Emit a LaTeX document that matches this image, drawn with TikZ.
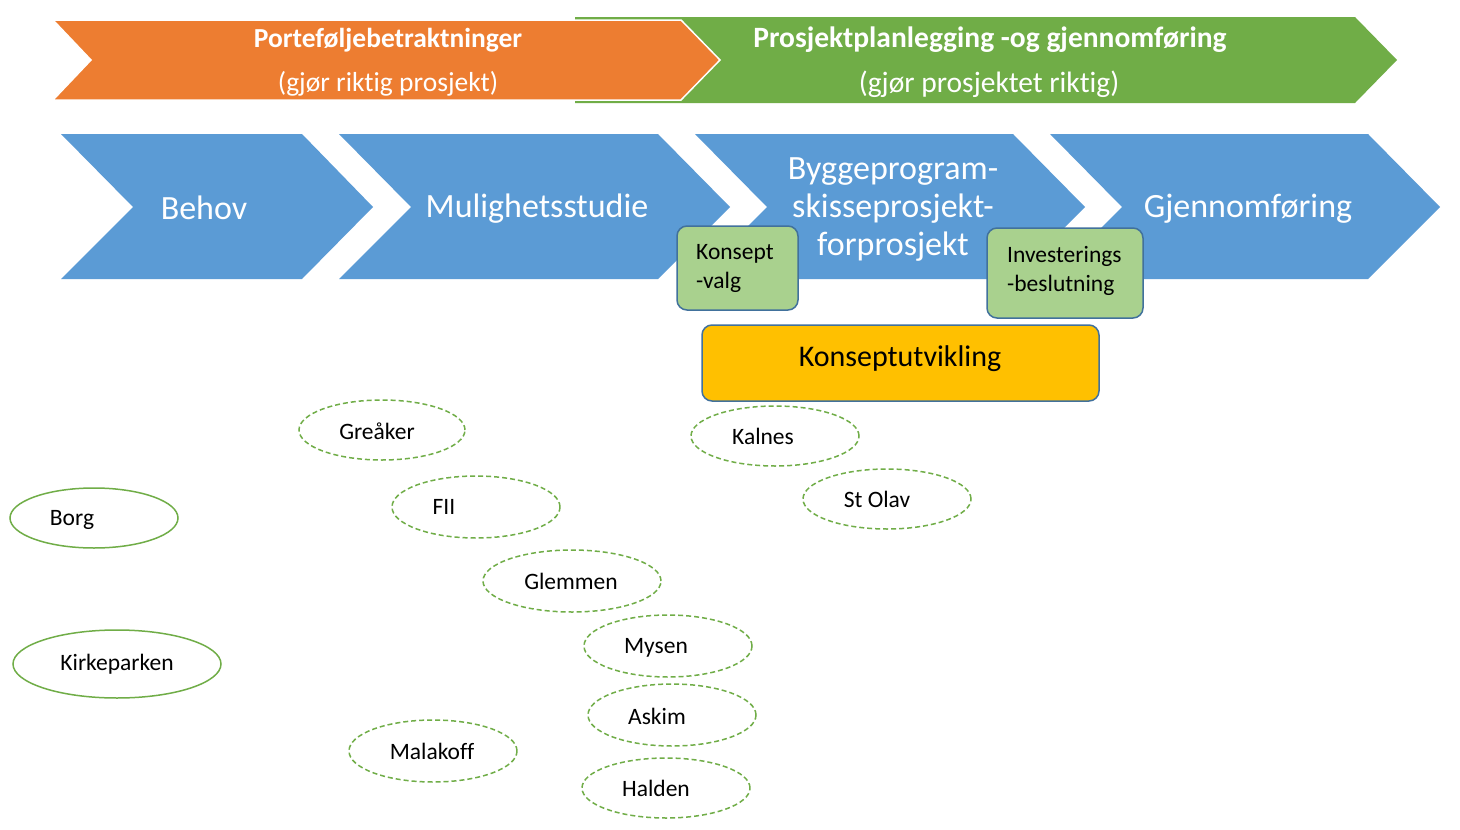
\documentclass[tikz,border=0pt]{standalone}
\usepackage{fontspec}
\setmainfont{Carlito}[Ligatures={NoCommon}]
\usetikzlibrary{shapes.geometric}
\definecolor{orangeA}{HTML}{ED7D31}
\definecolor{greenA}{HTML}{70AD47}
\definecolor{blueA}{HTML}{5B9BD5}
\definecolor{blueB}{HTML}{41719C}
\definecolor{greenB}{HTML}{A9D18E}
\definecolor{goldA}{HTML}{FFC000}
\tikzset{
  phase/.style={fill=blueA,draw=none},
  phasetext/.style={text=white,font=\fontsize{34}{38}\selectfont,align=center,inner sep=0},
  bandtext/.style={text=white,inner sep=0},
  gate/.style={draw=blueB,line width=1.5pt,fill=greenB,rounded corners=10pt},
  gatetext/.style={font=\fontsize{23.5}{29}\selectfont,align=left,inner sep=0,anchor=west},
  site/.style={ellipse,draw=greenA,line width=1.5pt,dashed,dash pattern=on 5pt off 3pt,inner sep=0},
  sitesolid/.style={ellipse,draw=greenA,line width=1.5pt,inner sep=0},
  sitetext/.style={font=\fontsize{23.5}{26}\selectfont,inner sep=0}
}
\begin{document}
\begin{tikzpicture}[x=1pt,y=-1pt]
\fill[white] (0,0) rectangle (1460,830);
\useasboundingbox (0,0) rectangle (1460,830);
% top bands
\fill[greenA] (575,17) -- (1355,17) -- (1397,60) -- (1355,103) -- (575,103) -- cycle;
\filldraw[fill=orangeA,draw=white,line width=1.5pt] (53,20) -- (681,20) -- (720,60) -- (681,100) -- (53,100) -- (91,60) -- cycle;
\node[bandtext,font=\fontsize{27.5}{30}\selectfont\bfseries] (pf1) at (388,40) {Porteføljebetraktninger};
\node[bandtext,font=\fontsize{27.5}{30}\selectfont] (pf2) at (388,84) {(gjør riktig prosjekt)};
\node[bandtext,font=\fontsize{29.5}{32}\selectfont\bfseries] (pp1) at (990,40) {Prosjektplanlegging -og gjennomføring};
\node[bandtext,font=\fontsize{29.5}{32}\selectfont] (pp2) at (989,84) {(gjør prosjektet riktig)};
% phases
\fill[phase] (61,134) -- (302,134) -- (373,207) -- (302,279) -- (61,279) -- (133,207) -- cycle;
\fill[phase] (339,134) -- (658,134) -- (730,207) -- (658,279) -- (339,279) -- (411,207) -- cycle;
\fill[phase] (695,134) -- (1013,134) -- (1085,207) -- (1013,279) -- (695,279) -- (767,207) -- cycle;
\fill[phase] (1050,134) -- (1368,134) -- (1440,207) -- (1368,279) -- (1050,279) -- (1122,207) -- cycle;
\node[phasetext] (behov) at (204,208) {Behov};
\node[phasetext] (mulig) at (537,209) {Mulighetsstudie};
\node[phasetext] (bygg) at (893,210) {Byggeprogram-\\skisseprosjekt-\\forprosjekt};
\node[phasetext] (gjen) at (1248,209) {Gjennomføring};
% gates
\draw[gate] (677,226) rectangle (798,310);
\node[gatetext] (kv) at (696,268.5) {Konsept\\-valg};
\draw[gate] (987,228) rectangle (1143,318);
\node[gatetext] (ib) at (1007,271) {Investerings\\-beslutning};
\draw[gate,fill=goldA] (702,325) rectangle (1099,401);
\node[font=\fontsize{30}{34}\selectfont,inner sep=0] (ku) at (900,359) {Konseptutvikling};
% sites
\node[site,minimum width=166pt,minimum height=60pt] (greaker) at (382,430) {};
\node[sitetext] at (377,431) {Greåker};
\node[site,minimum width=168pt,minimum height=62pt] (fii) at (476,507) {};
\node[sitetext] at (444,507) {FII};
\node[site,minimum width=178pt,minimum height=62pt] (glemmen) at (572,581) {};
\node[sitetext] at (571,581) {Glemmen};
\node[site,minimum width=168pt,minimum height=60pt] (kalnes) at (775,436) {};
\node[sitetext] at (763,436) {Kalnes};
\node[site,minimum width=168pt,minimum height=60pt] (stolav) at (887,499) {};
\node[sitetext] at (877,499) {St Olav};
\node[site,minimum width=168pt,minimum height=62pt] (mysen) at (668,646) {};
\node[sitetext] at (656,648) {Mysen};
\node[site,minimum width=168pt,minimum height=62pt] (askim) at (672,715) {};
\node[sitetext] at (657,716) {Askim};
\node[site,minimum width=168pt,minimum height=60pt] (halden) at (666,788) {};
\node[sitetext] at (656,788) {Halden};
\node[site,minimum width=168pt,minimum height=62pt] (malakoff) at (433,751) {};
\node[sitetext] at (432,751) {Malakoff};
\node[sitesolid,minimum width=168pt,minimum height=60pt] (borg) at (94,518) {};
\node[sitetext] at (72,520) {Borg};
\node[sitesolid,minimum width=208pt,minimum height=68pt] (kirke) at (117,664) {};
\node[sitetext] at (117,664) {Kirkeparken};
\end{tikzpicture}
\end{document}
